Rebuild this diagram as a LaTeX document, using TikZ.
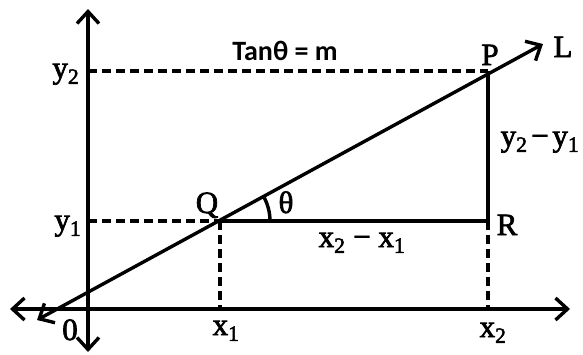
\documentclass[tikz,border=0pt]{standalone}
\usepackage{fontspec}
\setmainfont{Liberation Serif}[BoldFont=Liberation Serif,BoldFeatures={FakeBold=2.2}]
\newfontfamily\tanfont{Carlito}
\usetikzlibrary{arrows.meta,angles}
\begin{document}
\begin{tikzpicture}[x=1pt,y=-1pt,line width=3.4pt,
  >={Straight Barb[length=12pt,width=22pt]},
  dashline/.style={dash pattern=on 9pt off 5pt},
  lbl/.style={inner sep=0pt,font=\bfseries\fontsize{31}{36}\selectfont,anchor=base},
  tanlbl/.style={inner sep=0pt,font=\tanfont\bfseries\fontsize{28}{32}\selectfont,anchor=base}]
\useasboundingbox (0,0) rectangle (583,354);
\coordinate (Ytop) at (88,9);
\coordinate (Ybot) at (88,352);
\coordinate (Xl) at (10,309);
\coordinate (Xr) at (570,309);
\coordinate (Lstart) at (37,320);
\coordinate (Lend) at (543,44);
\coordinate (Q) at (220,221);
\coordinate (P) at (488,71);
\coordinate (R) at (488,221);
\coordinate (Y2) at (88,71);
\coordinate (Y1) at (88,221);
\coordinate (X1) at (220,309);
\coordinate (X2) at (488,309);
% axes and line
\draw[<->] (Ybot) -- (Ytop);
\draw[<->] (Xl) -- (Xr);
\draw[<->] (Lstart) -- (Lend);
% dashed projections
\draw[dashline] (Y2) -- (P);
\draw[dashline] (Y1) -- (Q);
\draw[dashline] (Q) -- (X1);
\draw[dashline] (R) -- (X2);
% triangle legs
\draw (Q) -- (R) -- (P);
\pic[draw,angle radius=50pt] {angle = R--Q--P};
% labels
\node[tanlbl] (tan) at (285,60) {Tanθ = m};
\node[lbl,anchor=base east] (ly2) at (81,78) {y\textsubscript{2}};
\node[lbl,anchor=base east] (ly1) at (83,230) {y\textsubscript{1}};
\node[lbl] (lQ) at (207,213) {Q};
\node[lbl] (lth) at (286,213) {θ};
\node[lbl] (lP) at (490,65) {P};
\node[lbl] (lL) at (563,57) {L};
\node[lbl,anchor=base east] (ldy) at (581,146) {y\textsubscript{2}\kern0.12em−\kern0.12em y\textsubscript{1}};
\node[lbl,anchor=base west] (lR) at (495,235) {R};
\node[lbl] (ldx) at (362,247) {x\textsubscript{2} − x\textsubscript{1}};
\node[lbl] (lO) at (70,340) {0};
\node[lbl] (lx1) at (226,335) {x\textsubscript{1}};
\node[lbl] (lx2) at (493,337) {x\textsubscript{2}};
\end{tikzpicture}
\end{document}
